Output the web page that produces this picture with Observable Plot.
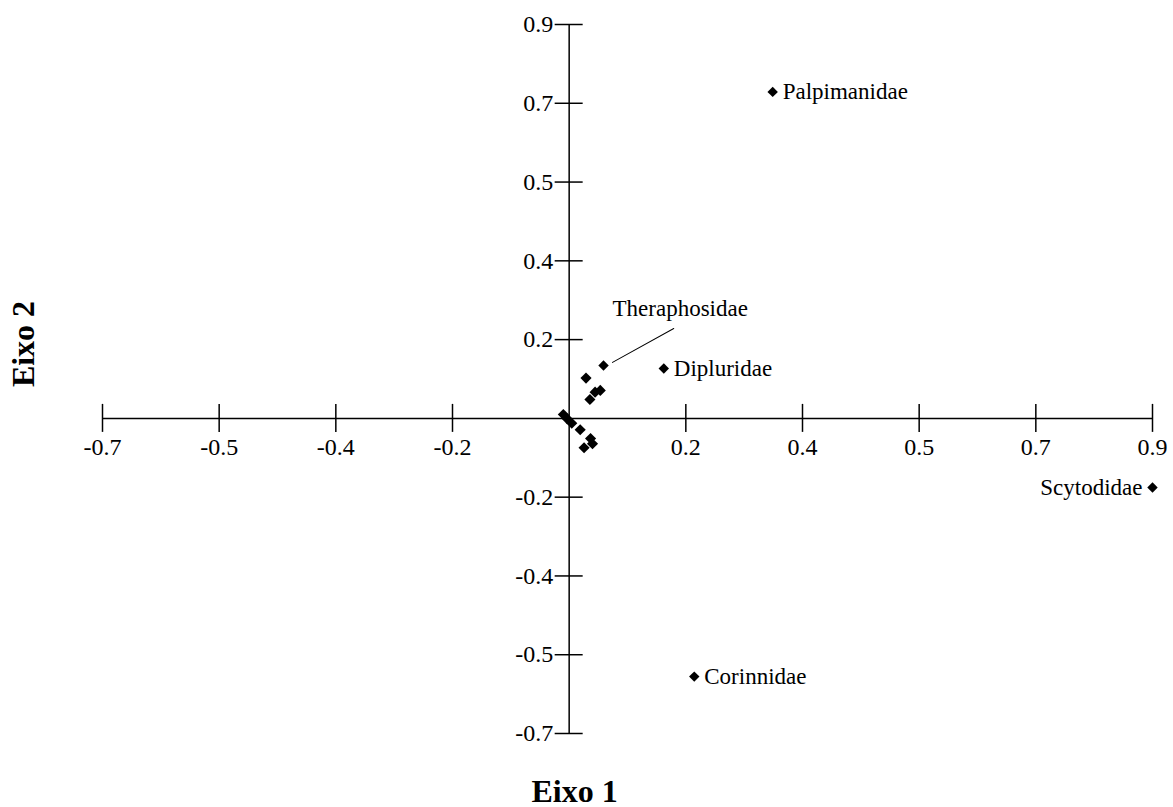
<!DOCTYPE html>
<html>
<head>
<meta charset="utf-8">
<script src="https://cdn.jsdelivr.net/npm/d3@7"></script>
<script src="https://cdn.jsdelivr.net/npm/@observablehq/plot@0.6"></script>
<style>
  html, body { margin: 0; padding: 0; background: #ffffff; }
  #chart svg { display: block; }
</style>
</head>
<body>
<div id="chart"></div>
<script>
// ---- data ----
const namedFamilies = ["Palpimanidae", "Dipluridae", "Theraphosidae", "Scytodidae", "Corinnidae"];
const namedEixo1 = [0.314, 0.146, 0.053, 0.900, 0.193];
const namedEixo2 = [0.746, 0.114, 0.121, -0.158, -0.590];

// unlabeled families clustered near the origin
const otherEixo1 = [0.026, 0.040, 0.048, 0.032, -0.009, -0.003, 0.004, 0.017, 0.033, 0.036, 0.023];
const otherEixo2 = [0.092, 0.060, 0.064, 0.043, 0.009, -0.001, -0.011, -0.026, -0.046, -0.058, -0.067];

const tickValues = [-0.72, -0.54, -0.36, -0.18, 0, 0.18, 0.36, 0.54, 0.72, 0.9];
const xTickLabels = ["-0.7", "-0.5", "-0.4", "-0.2", "", "0.2", "0.4", "0.5", "0.7", "0.9"];
const yTickLabels = ["-0.7", "-0.5", "-0.4", "-0.2", "", "0.2", "0.4", "0.5", "0.7", "0.9"];

const xTitle = "Eixo 1";
const yTitle = "Eixo 2";

// ---- build tables ----
const named = namedFamilies.map((name, i) => ({name, x: namedEixo1[i], y: namedEixo2[i]}));
const others = otherEixo1.map((x, i) => ({x, y: otherEixo2[i]}));
const ticks = tickValues.map((v, i) => ({v, xl: xTickLabels[i], yl: yTickLabels[i]})).filter(d => d.v !== 0);

const lo = d3.min(tickValues), hi = d3.max(tickValues);
const serif = "'Liberation Serif', 'Times New Roman', serif";
const ink = "#000000";

const rightLabels = named.filter(d => ["Palpimanidae", "Dipluridae", "Corinnidae"].includes(d.name));
const leftLabels = named.filter(d => d.name === "Scytodidae");
const callout = named.filter(d => d.name === "Theraphosidae");

const chart = Plot.plot({
  width: 1173,
  height: 807,
  marginLeft: 102,
  marginRight: 21,
  marginTop: 24,
  marginBottom: 74,
  x: {domain: [lo, hi], axis: null},
  y: {domain: [lo, hi], axis: null},
  style: {background: "#ffffff", fontFamily: serif, color: ink},
  marks: [
    // axis lines through the origin
    Plot.ruleY([0], {x1: lo, x2: hi, stroke: ink, strokeWidth: 1.5}),
    Plot.ruleX([0], {y1: lo, y2: hi, stroke: ink, strokeWidth: 1.5}),
    // tick marks crossing the axes
    Plot.ruleX(ticks, {x: "v", y1: 0, y2: 0, insetTop: -14, insetBottom: -14, stroke: ink, strokeWidth: 1.5}),
    Plot.ruleY(ticks, {y: "v", x1: 0, x2: 0, insetLeft: -14, insetRight: -14, stroke: ink, strokeWidth: 1.5}),
    // tick labels
    Plot.text(ticks, {x: "v", y: 0, text: "xl", dy: 29, fontSize: 24, fontFamily: serif, fill: ink}),
    Plot.text(ticks, {x: 0, y: "v", text: "yl", dx: -16, textAnchor: "end", fontSize: 24, fontFamily: serif, fill: ink}),
    // points
    Plot.dot(others, {x: "x", y: "y", symbol: "diamond2", r: 5, fill: ink, stroke: "none"}),
    Plot.dot(named, {x: "x", y: "y", symbol: "diamond2", r: 4.7, fill: ink, stroke: "none"}),
    // labels
    Plot.text(rightLabels, {x: "x", y: "y", text: "name", dx: 10, textAnchor: "start", fontSize: 23, fontFamily: serif, fill: ink}),
    Plot.text(leftLabels, {x: "x", y: "y", text: "name", dx: -10, textAnchor: "end", fontSize: 23, fontFamily: serif, fill: ink}),
    Plot.text(callout, {x: "x", y: "y", text: "name", dx: 9, dy: -57, textAnchor: "start", fontSize: 23, fontFamily: serif, fill: ink}),
    Plot.vector(callout, {x: "x", y: "y", length: 70, rotate: 61, anchor: "start", dx: 9, dy: -3, r: 0, stroke: ink, strokeWidth: 1}),
    // axis titles
    Plot.text([xTitle], {text: d => d, frameAnchor: "bottom", textAnchor: "middle", dx: -53, dy: 68, fontSize: 32, fontWeight: "bold", fontFamily: serif, fill: ink}),
    Plot.text([yTitle], {text: d => d, frameAnchor: "left", textAnchor: "middle", rotate: -90, dx: -79, dy: -35, fontSize: 32, fontWeight: "bold", fontFamily: serif, fill: ink})
  ]
});

document.getElementById("chart").appendChild(chart);
</script>
</body>
</html>
